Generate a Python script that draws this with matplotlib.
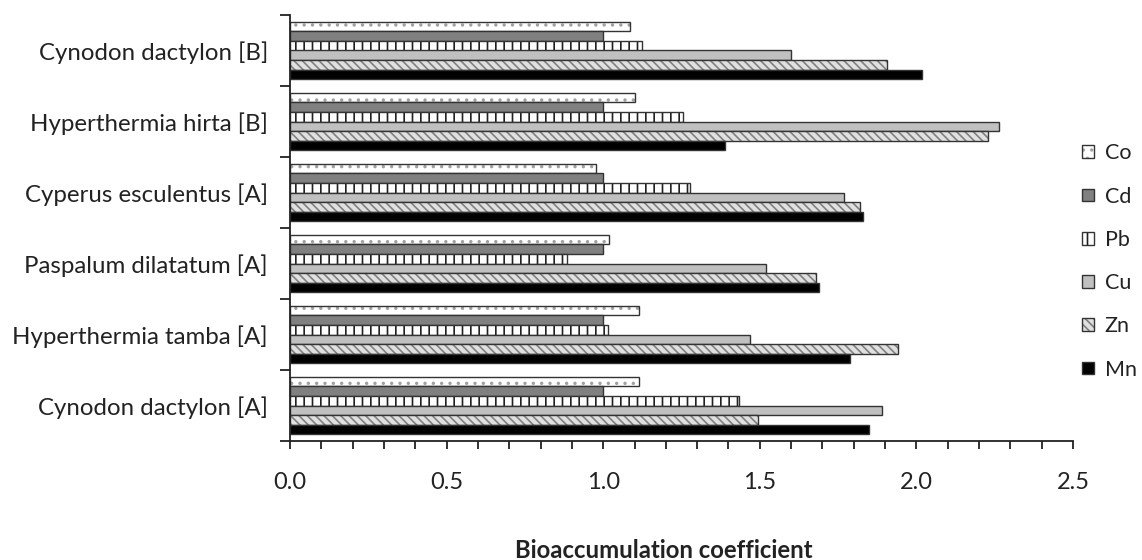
import numpy as np
import matplotlib
matplotlib.use("Agg")
import matplotlib.pyplot as plt
from matplotlib.ticker import MultipleLocator

plt.rcParams['font.family'] = ['Lato', 'DejaVu Sans']
plt.rcParams['hatch.linewidth'] = 1.2

# species, from bottom to top of the chart
species = ["Cynodon dactylon [A]", "Hyperthermia tamba [A]", "Paspalum dilatatum [A]",
           "Cyperus esculentus [A]", "Hyperthermia hirta [B]", "Cynodon dactylon [B]"]

# bioaccumulation coefficient per metal
Co = [1.115, 1.115, 1.02, 0.978, 1.10, 1.087]
Cd = [1.00, 1.00, 1.00, 1.00, 1.00, 1.00]
Pb = [1.435, 1.016, 0.885, 1.278, 1.256, 1.125]
Cu = [1.89, 1.47, 1.52, 1.77, 2.265, 1.60]
Zn = [1.495, 1.94, 1.68, 1.82, 2.23, 1.907]
Mn = [1.85, 1.787, 1.69, 1.828, 1.39, 2.018]

metals = ["Co", "Cd", "Pb", "Cu", "Zn", "Mn"]
values = [Co, Cd, Pb, Cu, Zn, Mn]

# look of each series: face colour, hatch, hatch colour
styles = {
    "Co": ("white", "..", "#a0a0a0"),
    "Cd": ("#808080", "", "#333333"),
    "Pb": ("white", "||", "#202020"),
    "Cu": ("#c0c0c0", "", "#333333"),
    "Zn": ("#e0e0e0", "\\\\\\\\", "#808080"),
    "Mn": ("black", "", "#333333"),
}

fig = plt.figure(figsize=(11.42, 5.6), dpi=100)
ax = fig.add_axes([290 / 1142, 1 - 441 / 560, 783 / 1142, 426 / 560])

y = np.arange(len(species))
h = 0.136
handles = []
for i, (name, vals) in enumerate(zip(metals, values)):
    face, hatch, hcol = styles[name]
    offset = (2.5 - i) * h
    # fill + hatch (hatch colour taken from rcParams when no edge is given)
    with plt.rc_context({'hatch.color': hcol, 'patch.force_edgecolor': False}):
        fill = ax.barh(y + offset, vals, height=h, color=face, hatch=hatch,
                       linewidth=0)
    # dark outline on top
    edge = ax.barh(y + offset, vals, height=h, fill=False,
                   edgecolor='#333333', linewidth=1.0)
    handles.append((fill.patches[0], edge.patches[0]))

ax.set_xlim(0, 2.5)
ax.set_ylim(-0.5, len(species) - 0.5)

ax.xaxis.set_major_locator(MultipleLocator(0.5))
ax.xaxis.set_minor_locator(MultipleLocator(0.1))
ax.xaxis.set_major_formatter(matplotlib.ticker.FormatStrFormatter('%.1f'))
ax.tick_params(axis='x', which='both', direction='out', length=6, width=1.3,
               color='#222222', pad=16.5, labelsize=17, labelcolor='#222222')

ax.set_yticks(y)
ax.set_yticklabels(species)
ax.set_yticks(np.arange(-0.5, len(species), 1.0), minor=True)
ax.tick_params(axis='y', which='major', length=0, pad=16, labelsize=17.3,
               labelcolor='#222222')
ax.tick_params(axis='y', which='minor', direction='out', length=7, width=1.3,
               color='#222222')

for s in ['top', 'right']:
    ax.spines[s].set_visible(False)
for s in ['left', 'bottom']:
    ax.spines[s].set_linewidth(1.3)
    ax.spines[s].set_color('#222222')

ax.set_xlabel("Bioaccumulation coefficient", fontsize=17.2, fontweight='bold',
              color='#222222')
ax.xaxis.set_label_coords((664 - 290) / 783, -(550 - 441) / 426)
ax.xaxis.label.set_va('center')

leg = ax.legend(handles, metals, loc='center left',
                bbox_to_anchor=((1082 - 290) / 783, (441 - 261.5) / 426),
                frameon=False, fontsize=15.5, handlelength=0.55, handleheight=0.55,
                handletextpad=0.5, labelspacing=1.08, borderaxespad=0, borderpad=0)
for t in leg.get_texts():
    t.set_color('#222222')

fig.savefig("out.png", dpi=100)
